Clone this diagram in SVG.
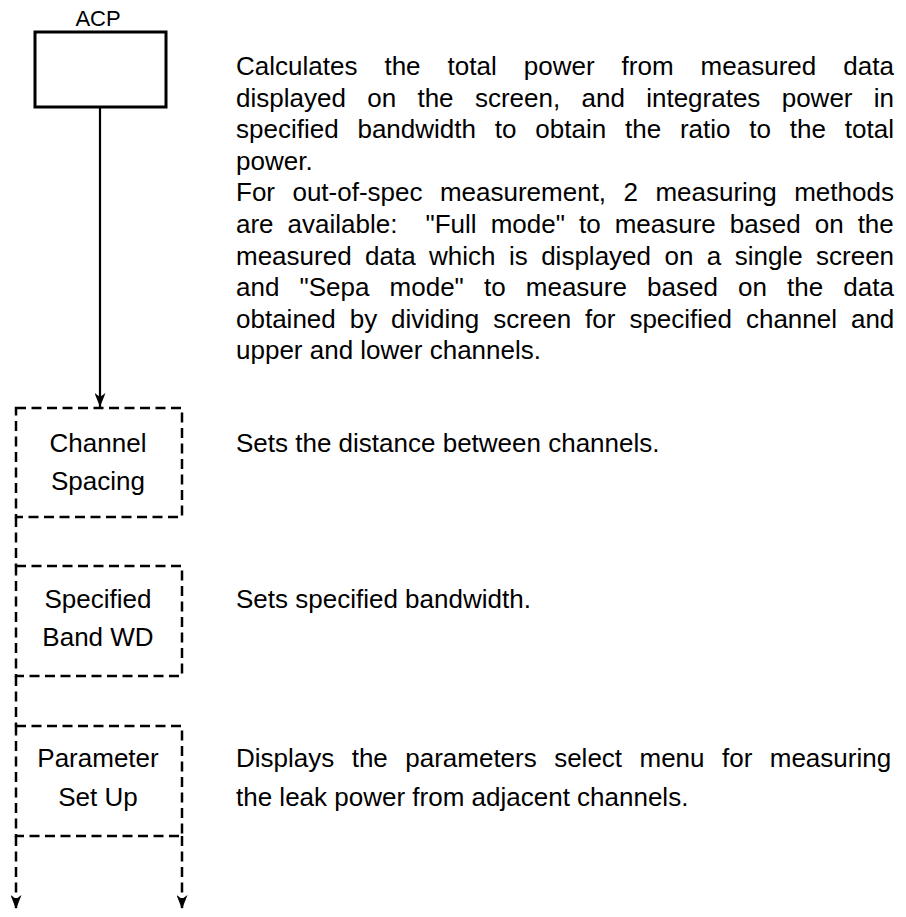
<svg xmlns="http://www.w3.org/2000/svg" width="906" height="917" viewBox="0 0 906 917">
<style>
  text { font-family: "Liberation Sans", Arial, sans-serif; fill: #000; }
  .lbl { font-size: 26px; text-anchor: middle; }
  .desc { font-size: 26px; }
  .acp { font-size: 22px; text-anchor: middle; }
  .solid { fill: #fff; stroke: #000; stroke-width: 3; }
  .dash { fill: none; stroke: #000; stroke-width: 2.5; stroke-dasharray: 10 5.5; }
  .conn { fill: none; stroke: #000; stroke-width: 2.2; }
  .conn-dash { fill: none; stroke: #000; stroke-width: 2.5; stroke-dasharray: 10 5.5; }
</style>
<defs>
  <marker id="arr" viewBox="0 0 14 11" refX="14" refY="5.5" markerWidth="14" markerHeight="11" markerUnits="userSpaceOnUse" orient="auto">
    <path d="M0,0 L14,5.5 L0,11 L4,5.5 Z" fill="#000"/>
  </marker>
</defs>
<rect width="906" height="917" fill="#fff"/>

<g id="connectors">
  <line class="conn" x1="100" y1="107" x2="100" y2="407" marker-end="url(#arr)"/>
  <line class="conn-dash" x1="16" y1="517" x2="16" y2="566"/>
  <line class="conn-dash" x1="16" y1="676" x2="16" y2="726"/>
  <line class="conn-dash" x1="16" y1="836" x2="16" y2="909" marker-end="url(#arr)"/>
  <line class="conn-dash" x1="182" y1="836" x2="182" y2="909" marker-end="url(#arr)"/>
</g>

<g id="node-acp">
  <text class="acp" x="98" y="26">ACP</text>
  <rect class="solid" x="35" y="32" width="131" height="75"/>
</g>

<g id="node-channel-spacing">
  <rect class="dash" x="16" y="408" width="166" height="109"/>
  <text class="lbl" x="98" y="452">Channel</text>
  <text class="lbl" x="98" y="490">Spacing</text>
</g>

<g id="node-specified-band-wd">
  <rect class="dash" x="16" y="566" width="166" height="110"/>
  <text class="lbl" x="98" y="608">Specified</text>
  <text class="lbl" x="98" y="646">Band WD</text>
</g>

<g id="node-parameter-set-up">
  <rect class="dash" x="16" y="726" width="166" height="110"/>
  <text class="lbl" x="98" y="767">Parameter</text>
  <text class="lbl" x="98" y="806">Set Up</text>
</g>

<g id="desc-acp">
  <text class="desc" x="236" y="75" word-spacing="19.8">Calculates the total power from measured data</text>
  <text class="desc" x="236" y="106.6" word-spacing="14.1">displayed on the screen, and integrates power in</text>
  <text class="desc" x="236" y="138.2" word-spacing="11.6">specified bandwidth to obtain the ratio to the total</text>
  <text class="desc" x="236" y="169.8">power.</text>
  <text class="desc" x="236" y="201.4" word-spacing="10.2">For out-of-spec measurement, 2 measuring methods</text>
  <text class="desc" x="236" y="233" word-spacing="6.8" xml:space="preserve">are available:  "Full mode" to measure based on the</text>
  <text class="desc" x="236" y="264.6" word-spacing="6.2">measured data which is displayed on a single screen</text>
  <text class="desc" x="236" y="296.2" word-spacing="12.9">and "Sepa mode" to measure based on the data</text>
  <text class="desc" x="236" y="327.8" word-spacing="6.7">obtained by dividing screen for specified channel and</text>
  <text class="desc" x="236" y="359.4">upper and lower channels.</text>
</g>

<g id="desc-channel-spacing">
  <text class="desc" x="236" y="452">Sets the distance between channels.</text>
</g>
<g id="desc-specified-band-wd">
  <text class="desc" x="236" y="608">Sets specified bandwidth.</text>
</g>
<g id="desc-parameter-set-up">
  <text class="desc" x="236" y="767" word-spacing="10.2">Displays the parameters select menu for measuring</text>
  <text class="desc" x="236" y="806">the leak power from adjacent channels.</text>
</g>
</svg>
